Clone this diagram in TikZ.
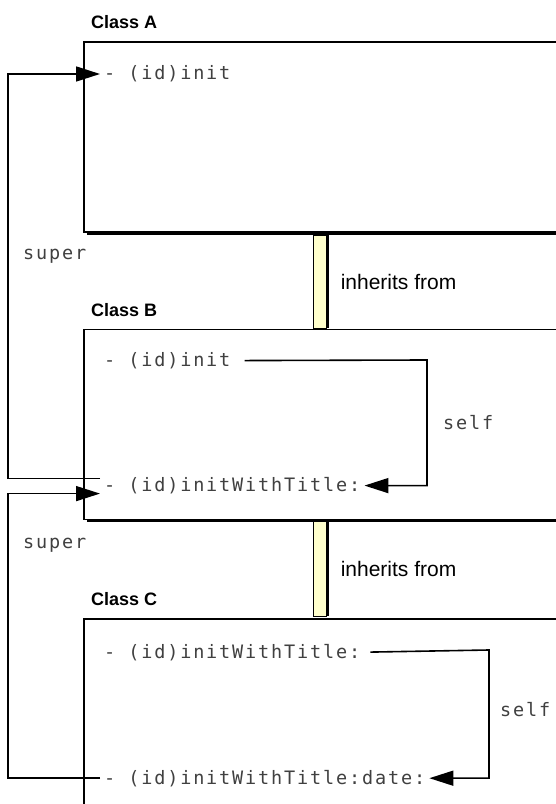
\documentclass[tikz,border=0pt]{standalone}
\usepackage{fontspec}
\setmainfont{Liberation Sans}
\newfontfamily\codefont{DejaVu Sans Mono}[LetterSpace=10]
\usepackage{tikz}
\usetikzlibrary{arrows.meta, positioning, calc, shadows}
\definecolor{barfill}{RGB}{255,255,204}
\tikzstyle{classbox} = [rectangle, minimum width=560pt, minimum height=190pt, draw=black, line width=1.6pt, fill=white, drop shadow={shadow xshift=3pt, shadow yshift=-3pt, opacity=1, fill=black}]
\tikzstyle{classtitle} = [inner sep=0pt, font=\fontsize{18}{20}\selectfont\bfseries]
\tikzstyle{method} = [inner xsep=4pt, inner ysep=0pt, text=black!75, font=\codefont\fontsize{18.5}{20}\selectfont]
\tikzstyle{code} = [inner sep=0pt, text=black!75, font=\codefont\fontsize{18.5}{20}\selectfont]
\tikzstyle{inherit} = [rectangle, minimum width=13pt, minimum height=93pt, draw=black, line width=0.6pt, fill=barfill, drop shadow={shadow xshift=3pt, shadow yshift=0pt, opacity=1, fill=black}]
\tikzstyle{note} = [inner sep=0pt, font=\fontsize{21}{23}\selectfont]
\tikzstyle{arrow} = [line width=1.6pt, -{Triangle[length=24pt, width=15pt]}]

\begin{document}
\begin{tikzpicture}[x=1pt, y=1pt]
    \useasboundingbox (0,0) rectangle (556,804);
    \clip (0,0) rectangle (556,804);
    \fill [white] (0,0) rectangle (556,804);

    \node (classA) [classbox, anchor=north west] at (83,763) {};
    \node (classB) [classbox, below=96pt of classA] {};
    \node (classC) [classbox, below=98pt of classB] {};

    \node (labelA) [classtitle, above right=12pt and 8pt of classA.north west] {Class A};
    \node (labelB) [classtitle, above right=12pt and 8pt of classB.north west] {Class B};
    \node (labelC) [classtitle, above right=12pt and 8pt of classC.north west] {Class C};

    \node (barAB) [inherit, anchor=north west] at (313,569) {};
    \node (barBC) [inherit, anchor=north west, minimum height=95pt] at (313,283) {};
    \node (inhAB) [note, right=14pt of barAB] {inherits from};
    \node (inhBC) [note, right=14pt of barBC] {inherits from};

    \node (initA) [method, right=17pt of classA.north west, yshift=-33pt] {- (id)init};
    \node (initB) [method, right=17pt of classB.north west, yshift=-32pt] {- (id)init};
    \node (initTitleB) [method, right=17pt of classB.north west, yshift=-157pt] {- (id)initWithTitle:};
    \node (initTitleC) [method, right=17pt of classC.north west, yshift=-34pt] {- (id)initWithTitle:};
    \node (initDateC) [method, right=17pt of classC.north west, yshift=-160pt] {- (id)initWithTitle:date:};

    % super calls
    \coordinate (rail) at (8,0);
    \coordinate (fromB) at ($(initTitleB.west)+(0,7pt)$);
    \coordinate (intoB) at ($(initTitleB.west)+(0,-8pt)$);
    \draw [arrow] (fromB) -- (fromB -| rail) |- (initA.west);
    \draw [arrow] (initDateC.west) -- (initDateC.west -| rail) |- (intoB);
    \node (superA) [code, anchor=west] at (23,548) {super};
    \node (superB) [code, anchor=west] at (23,259) {super};

    % self calls
    \coordinate (selfB) at (427,444);
    \coordinate (selfC) at (489,154);
    \draw [arrow, shorten <=10pt] (initB.east) -- (selfB) |- (initTitleB.east);
    \draw [arrow, shorten <=6pt] (initTitleC.east) -- (selfC) |- (initDateC.east);
    \node (selfBtext) [code, anchor=west] at (443,381) {self};
    \node (selfCtext) [code, anchor=west] at (500,94) {self};
\end{tikzpicture}
\end{document}
